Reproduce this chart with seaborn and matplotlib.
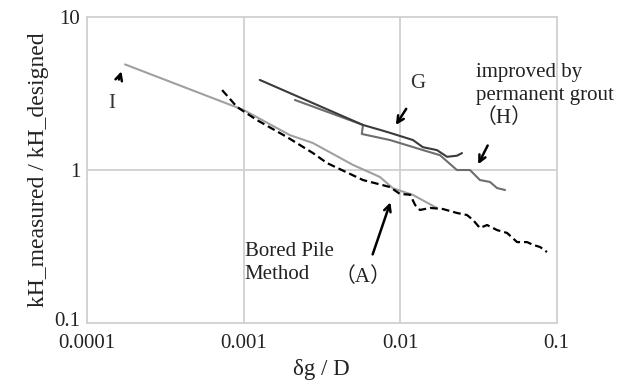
import numpy as np
import pandas as pd
import seaborn as sns
from matplotlib import pyplot as plt
from matplotlib.transforms import ScaledTranslation

# curve I (light gray)
i_x = [1.75e-4, 1.0e-3, 1.98e-3, 2.78e-3, 5.0e-3, 7.45e-3, 9.0e-3, 0.0121, 0.0172]
i_y = [4.9, 2.47, 1.69, 1.50, 1.08, 0.90, 0.76, 0.687, 0.565]

# curve G (dark)
g_x = [1.27e-3, 5.8e-3, 7.45e-3, 8.63e-3, 0.0121, 0.0140, 0.0172, 0.0200, 0.0231, 0.0249]
g_y = [3.88, 1.97, 1.83, 1.75, 1.57, 1.41, 1.35, 1.22, 1.24, 1.29]

# curve H (mid gray)
h_x = [2.13e-3, 5.8e-3, 5.7e-3, 8.63e-3, 0.0140, 0.0180, 0.0231, 0.0280, 0.0324, 0.0376, 0.0417, 0.0469]
h_y = [2.87, 1.97, 1.72, 1.57, 1.35, 1.25, 1.0, 1.0, 0.86, 0.835, 0.762, 0.74]

# curve A (black dashed, bored pile method)
a_x = [7.3e-4, 9.1e-4, 1.22e-3, 1.90e-3, 2.78e-3, 3.42e-3, 5.8e-3, 8.63e-3, 0.0100, 0.0116,
       0.0125, 0.0134, 0.0156, 0.0188, 0.0231, 0.0268, 0.0293, 0.0324, 0.0360, 0.0417,
       0.0483, 0.0560, 0.0649, 0.0708, 0.0785, 0.0869]
a_y = [3.33, 2.58, 2.12, 1.64, 1.29, 1.11, 0.86, 0.774, 0.697, 0.69,
       0.59, 0.548, 0.565, 0.556, 0.524, 0.508, 0.471, 0.418, 0.437, 0.405,
       0.388, 0.338, 0.338, 0.324, 0.314, 0.291]

x_ticks = [0.0001, 0.001, 0.01, 0.1]
x_ticklabels = ['0.0001', '0.001', '0.01', '0.1']
y_ticks = [0.1, 1, 10]
y_ticklabels = ['0.1', '1', '10']

sns.set_style('white')
plt.rcParams['font.family'] = ['Liberation Serif', 'Noto Sans CJK JP', 'DejaVu Serif']

fig = plt.figure(figsize=(6.36, 3.92), dpi=100)
ax = fig.add_axes([0.1368, 0.176, 0.7382, 0.7806])

grid_c = '#d0d0d0'
ax.set_xscale('log')
ax.set_yscale('log')
ax.set_xlim(1e-4, 1e-1)
ax.set_ylim(0.1, 10)
for v in [0.001, 0.01]:
    ax.axvline(v, color=grid_c, lw=1.3, zorder=0)
ax.axhline(1, color=grid_c, lw=1.3, zorder=0)
for s in ax.spines.values():
    s.set_color(grid_c)
    s.set_linewidth(1.3)

def curve(x, y, **kw):
    df = pd.DataFrame({'x': x, 'y': y})
    sns.lineplot(data=df, x='x', y='y', sort=False, estimator=None, ax=ax, **kw)

curve(i_x, i_y, color='#a0a0a0', lw=1.5)
curve(h_x, h_y, color='#6e6e6e', lw=1.5)
curve(g_x, g_y, color='#3a3a3a', lw=1.5)
curve(a_x, a_y, color='black', lw=1.6, linestyle=(0, (3.5, 1.8)))

ax.set_xticks(x_ticks)
ax.set_xticklabels(x_ticklabels)
ax.set_yticks(y_ticks)
ax.set_yticklabels(y_ticklabels)
ax.minorticks_off()
ax.tick_params(axis='both', length=0, labelsize=15, colors='#222222')
ax.tick_params(axis='x', pad=8)
ax.tick_params(axis='y', pad=5)
# lift the bottom y label a few pixels so it clears 0.0001
lab = ax.get_yticklabels()[0]
lab.set_transform(lab.get_transform() + ScaledTranslation(0, 4 / 100, fig.dpi_scale_trans))
ax.set_xlabel('δg / D', fontsize=16.5, color='#222222', labelpad=4)
ax.set_ylabel('kH_measured / kH_designed', fontsize=17, color='#222222', labelpad=4)

fs = 15
arr = dict(arrowstyle='->', color='black', lw=1.8, mutation_scale=12)
ax.text(1.44e-4, 2.74, 'I', fontsize=fs, ha='center', va='center', color='#333333')
ax.annotate('', xy=(1.68e-4, 4.6), xytext=(1.58e-4, 3.75), arrowprops=arr)
ax.text(0.013, 3.7, 'G', fontsize=fs, ha='center', va='center', color='#333333')
ax.annotate('', xy=(9.2e-3, 1.9), xytext=(0.0112, 2.6), arrowprops=arr)
ax.text(0.0305, 3.05, 'improved by\npermanent grout\n（H）', fontsize=fs, ha='left', va='center',
        color='#222222', linespacing=1.25)
ax.annotate('', xy=(0.031, 1.05), xytext=(0.037, 1.5), arrowprops=arr)
ax.text(1.02e-3, 0.247, 'Bored Pile\nMethod', fontsize=fs, ha='left', va='center',
        color='#222222', linespacing=1.25)
ax.text(3.8e-3, 0.2, '（A）', fontsize=fs, ha='left', va='center', color='#222222')
ax.annotate('', xy=(8.8e-3, 0.64), xytext=(6.6e-3, 0.27), arrowprops=arr)

fig.savefig('out.png', dpi=100)
